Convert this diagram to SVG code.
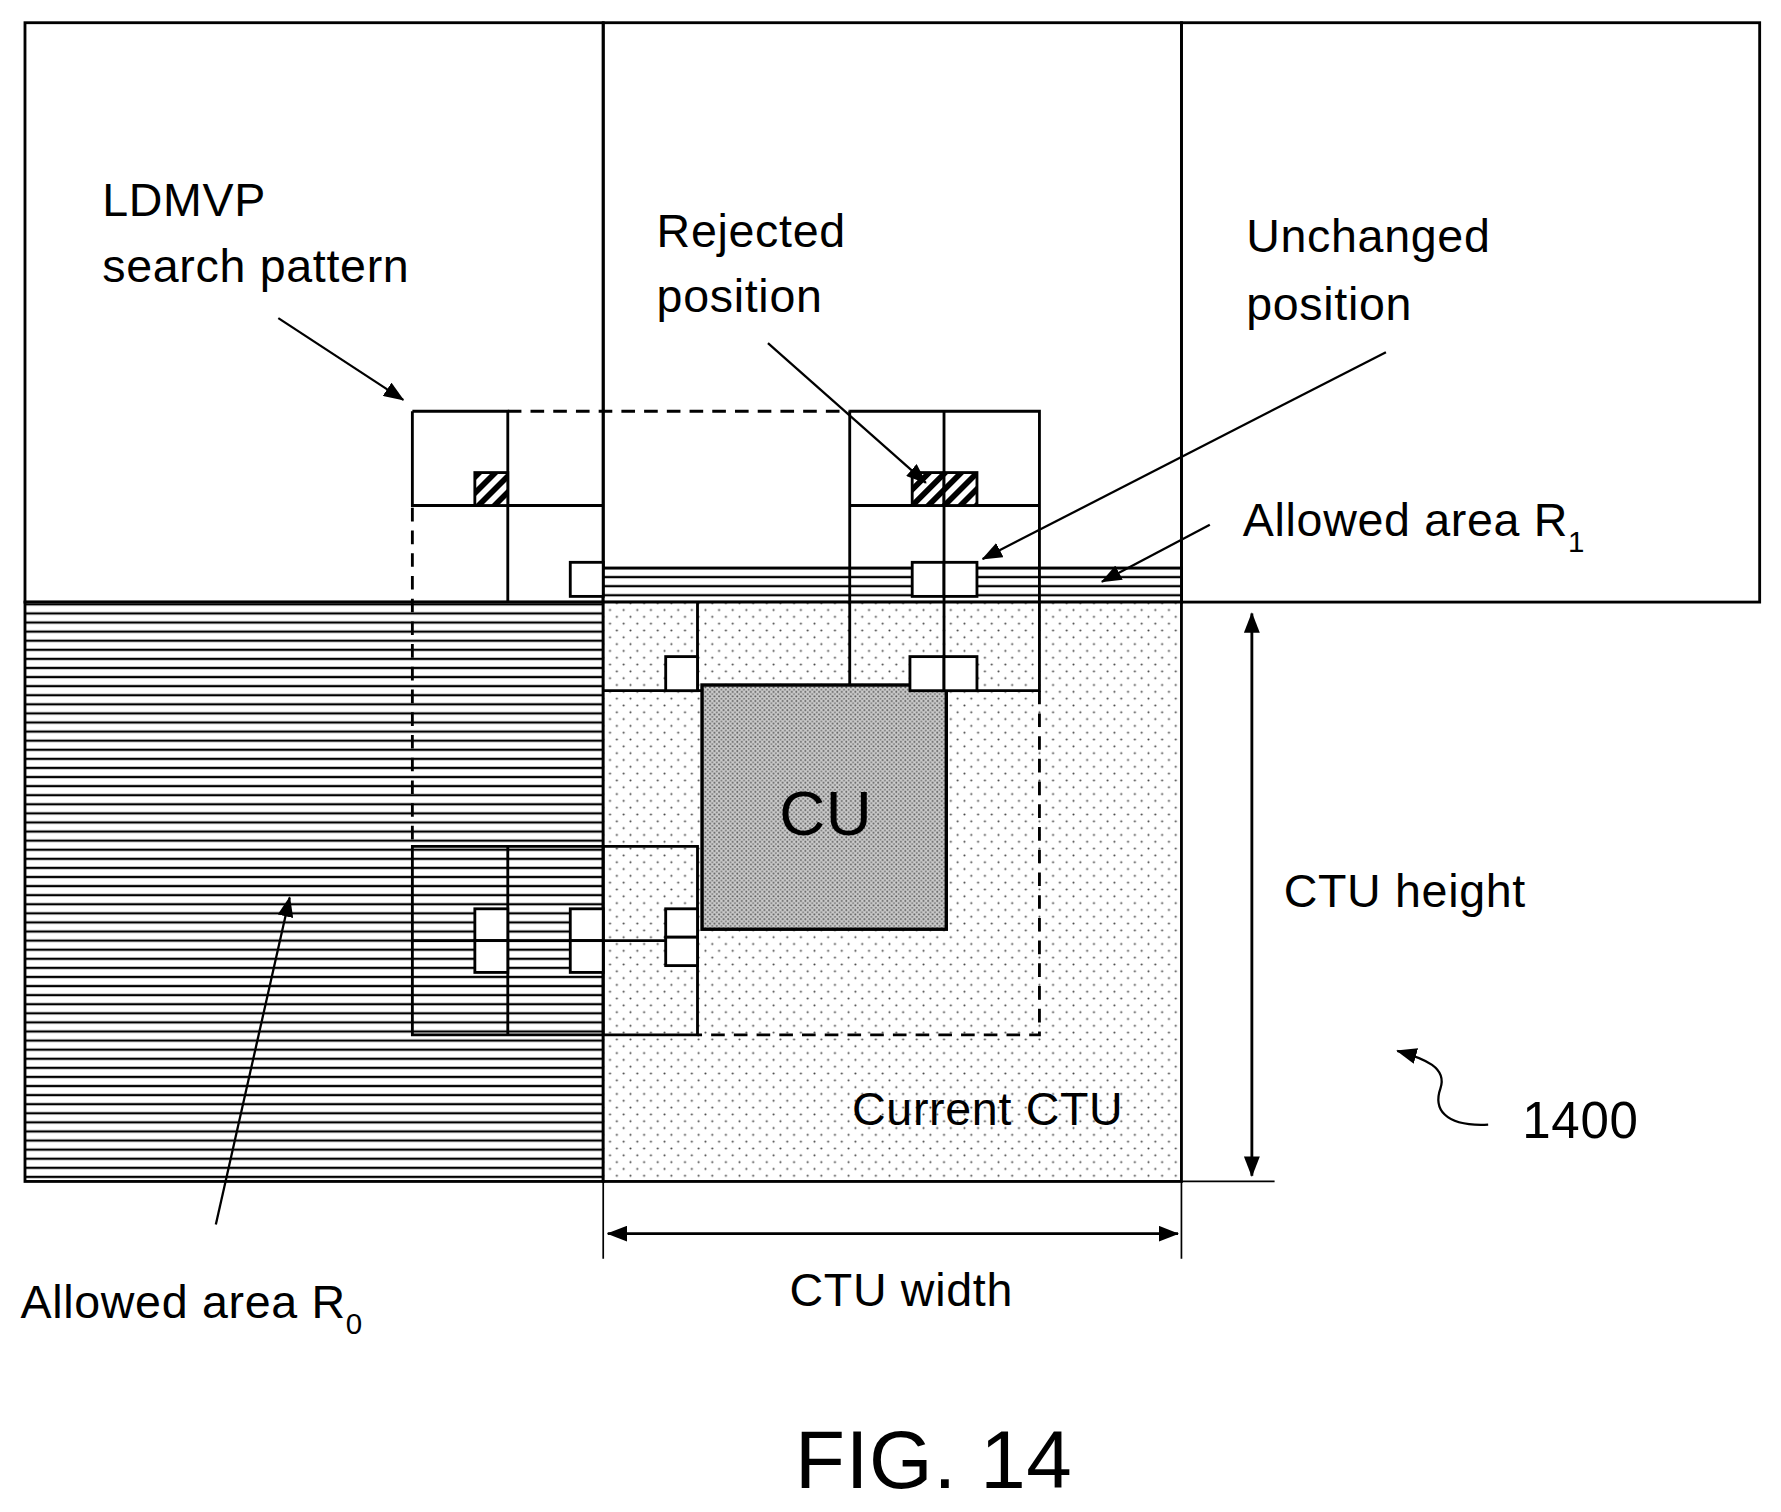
<svg xmlns="http://www.w3.org/2000/svg" width="1781" height="1512" viewBox="0 0 1781 1512">
<style>
.l{fill:none;stroke:#000;stroke-width:2.5}
.d{fill:none;stroke:#000;stroke-width:2.5;stroke-dasharray:12 8}
.sq{fill:#fff;stroke:#000;stroke-width:2.5}
.hs{fill:url(#diag);stroke:#000;stroke-width:2.5}
.t{font-family:"Liberation Sans",Arial,sans-serif;font-size:41px;letter-spacing:0.6px;fill:#000}
.a{stroke:#000;stroke-width:2;fill:none;marker-end:url(#ah)}
.a2{stroke:#000;stroke-width:2.5;fill:none;marker-end:url(#ah);marker-start:url(#ahs)}
</style>
<defs>
<pattern id="hl" width="8" height="8" patternUnits="userSpaceOnUse"><rect width="8" height="8" fill="#fff"/><line x1="0" y1="4" x2="8" y2="4" stroke="#000" stroke-width="2"/></pattern>
<pattern id="dots" width="12" height="12" patternUnits="userSpaceOnUse"><rect width="12" height="12" fill="#fff"/><circle cx="3" cy="3" r="0.9" fill="#444"/><circle cx="9" cy="9" r="0.9" fill="#444"/></pattern>
<pattern id="dd" width="4" height="4" patternUnits="userSpaceOnUse"><rect width="4" height="4" fill="#ccc"/><circle cx="1" cy="1" r="0.9" fill="#555"/><circle cx="3" cy="3" r="0.9" fill="#777"/></pattern>
<pattern id="diag" width="10" height="10" patternUnits="userSpaceOnUse" patternTransform="rotate(45)"><rect width="10" height="10" fill="#fff"/><rect width="5" height="10" fill="#000"/></pattern>
<marker id="ah" markerWidth="18" markerHeight="14" refX="17" refY="7" orient="auto" markerUnits="userSpaceOnUse" viewBox="0 0 18 14"><path d="M0,0 L18,7 L0,14 z"/></marker>
<marker id="ahs" markerWidth="18" markerHeight="14" refX="1" refY="7" orient="auto" markerUnits="userSpaceOnUse" viewBox="0 0 18 14"><path d="M18,0 L0,7 L18,14 z"/></marker>
</defs>
<rect width="1781" height="1512" fill="#fff"/>
<g transform="scale(1.136)">
<g id="top-blocks">
<rect class="l" x="22" y="20" width="509" height="510"/>
<rect class="l" x="531" y="20" width="509" height="510"/>
<rect class="l" x="1040" y="20" width="509" height="510"/>
</g>
<g id="R0"><rect x="22" y="530" width="509" height="510" fill="url(#hl)" stroke="#000" stroke-width="2.5"/></g>
<g id="R1"><rect x="531" y="500" width="509" height="30" fill="url(#hl)" stroke="#000" stroke-width="2.5"/></g>
<g id="current-ctu"><rect x="531" y="530" width="509" height="510" fill="url(#dots)" stroke="#000" stroke-width="2.5"/></g>
<g id="cu"><rect x="618" y="603" width="215" height="215" fill="url(#dd)" stroke="#000" stroke-width="3"/>
<text class="t" x="727" y="735" text-anchor="middle" style="font-size:56px">CU</text></g>
<g id="search-area">
<path class="d" d="M447,362 H748 M363,447 V745 M915,608 V911 H614"/>
</g>
<g id="pattern-top-left">
<path class="l" d="M363,362 H447 V530 M363,362 V445 H531"/>
<rect class="hs" x="418" y="416" width="29" height="29"/>
<rect class="sq" x="502" y="495" width="29" height="30"/>
</g>
<g id="pattern-top-right">
<path class="l" d="M748,362 H915 V608 H833 M748,362 V603 M831,362 V603 M748,445 H915"/>
<rect class="hs" x="803" y="416" width="28" height="29"/>
<rect class="hs" x="831" y="416" width="29" height="29"/>
<rect class="sq" x="803" y="495" width="28" height="30"/>
<rect class="sq" x="831" y="495" width="29" height="30"/>
<rect class="sq" x="801" y="578" width="30" height="30"/>
<rect class="sq" x="831" y="578" width="29" height="30"/>
</g>
<g id="pattern-left">
<path class="l" d="M614,530 V608 M531,608 H618"/>
<rect class="sq" x="586" y="578" width="28" height="30"/>
</g>
<g id="pattern-bottom-left">
<path class="l" d="M363,745 H614 V911 H363 Z M447,745 V911 M531,745 V911 M363,828 H614"/>
<rect class="sq" x="418" y="800" width="29" height="28"/>
<rect class="sq" x="418" y="828" width="29" height="28"/>
<rect class="sq" x="502" y="800" width="29" height="28"/>
<rect class="sq" x="502" y="828" width="29" height="28"/>
<rect class="sq" x="586" y="800" width="28" height="25"/>
<rect class="sq" x="586" y="825" width="28" height="25"/>
</g>
<g id="connectors">
<line class="a" x1="245" y1="280" x2="355" y2="352"/>
<line class="a" x1="676" y1="302" x2="815" y2="425"/>
<line class="a" x1="1220" y1="310" x2="865" y2="492"/>
<line class="a" x1="1065" y1="462" x2="970" y2="512"/>
<line class="a" x1="190" y1="1078" x2="255" y2="790"/>
<line class="a2" x1="1102" y1="540" x2="1102" y2="1035"/>
<line class="a2" x1="535" y1="1086" x2="1037" y2="1086"/>
<path class="l" style="stroke-width:1.5" d="M1040,1040 H1122 M531,1040 V1108 M1040,1040 V1108"/>
<path class="a" d="M1310,990 C1270,992 1262,975 1268,958 C1274,940 1255,932 1230,925"/>
</g>
<g id="labels">
<text class="t" x="90" y="190">LDMVP</text>
<text class="t" x="90" y="248">search pattern</text>
<text class="t" x="578" y="217">Rejected</text>
<text class="t" x="578" y="275">position</text>
<text class="t" x="1097" y="222">Unchanged</text>
<text class="t" x="1097" y="282">position</text>
<text class="t" x="1094" y="472">Allowed area R<tspan dy="14" style="font-size:26px">1</tspan></text>
<text class="t" x="1130" y="798">CTU height</text>
<text class="t" x="750" y="990">Current CTU</text>
<text class="t" x="1340" y="1002" style="font-size:45px">1400</text>
<text class="t" x="695" y="1150">CTU width</text>
<text class="t" x="18" y="1160">Allowed area R<tspan dy="14" style="font-size:26px">0</tspan></text>
<text class="t" x="822" y="1310" text-anchor="middle" style="font-size:72px">FIG. 14</text>
</g>
</g>
</svg>
